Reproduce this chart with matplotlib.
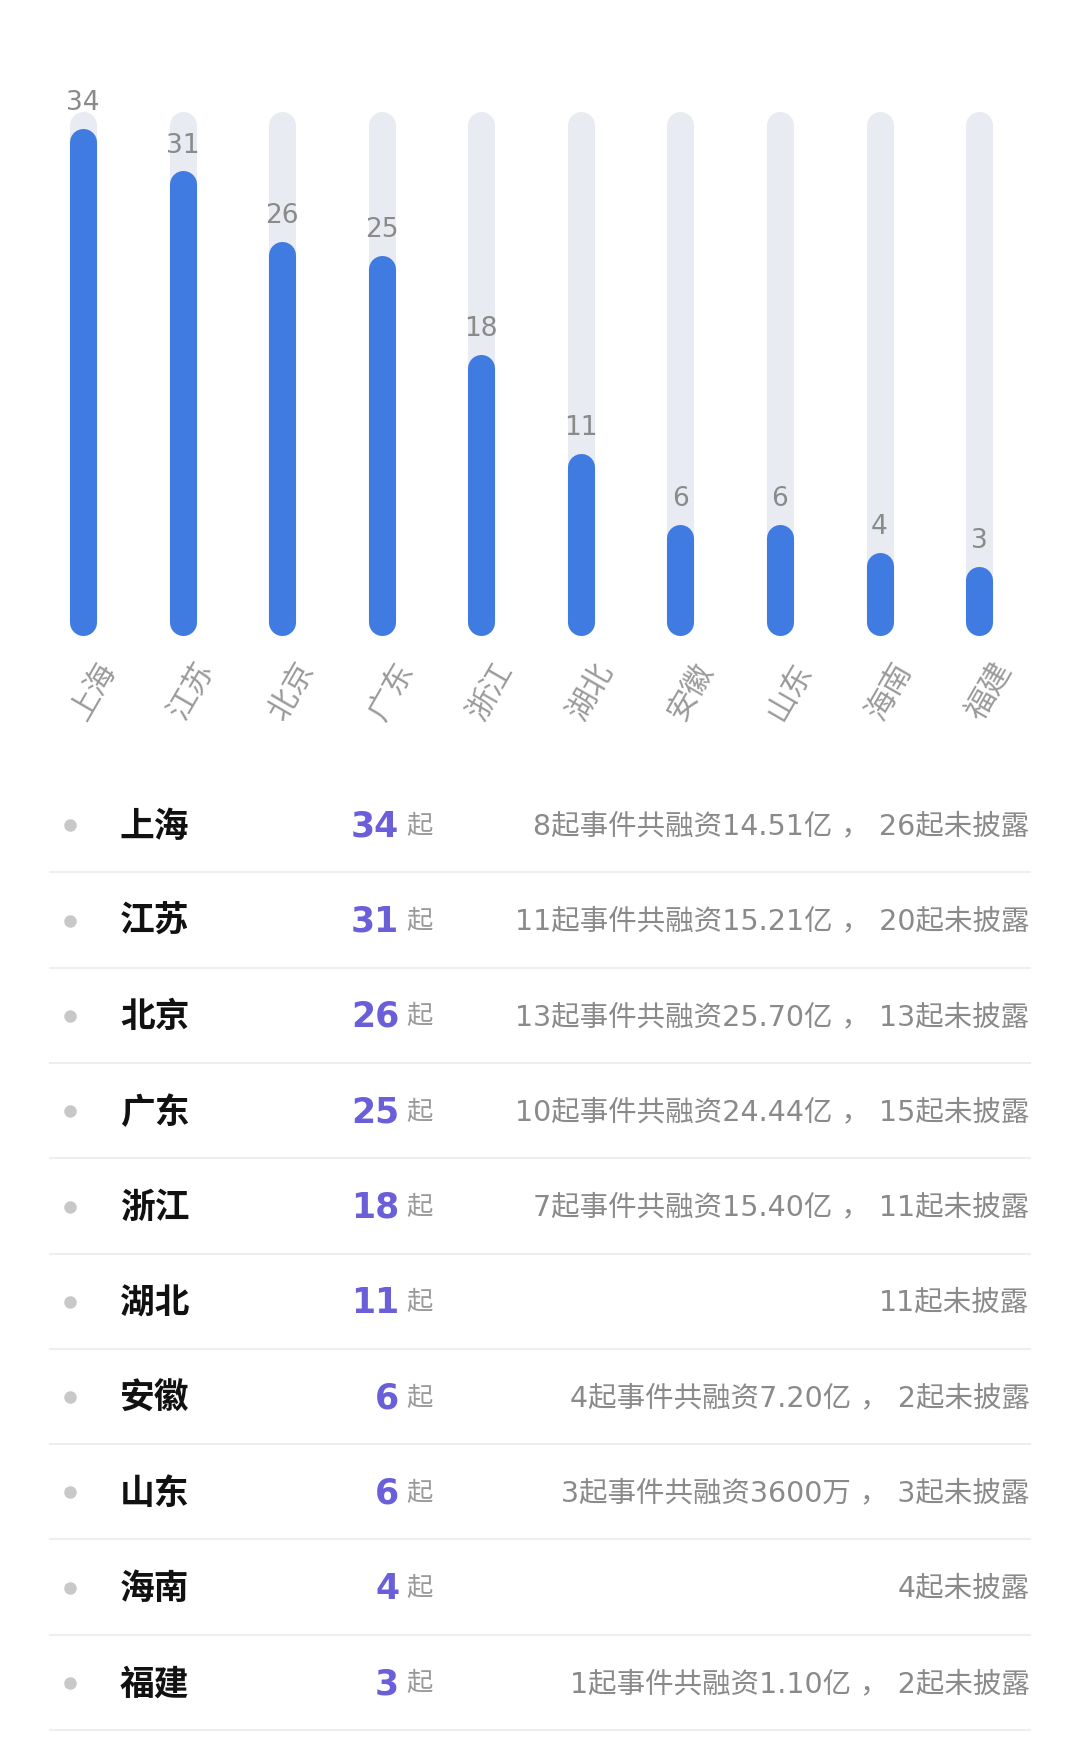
import matplotlib.pyplot as plt

plt.rcParams['font.family'] = ['DejaVu Sans', 'Noto Sans CJK SC']
CJK = ['Noto Sans CJK SC', 'DejaVu Sans']

provinces = ['上海', '江苏', '北京', '广东', '浙江', '湖北', '安徽', '山东', '海南', '福建']
counts = [34, 31, 26, 25, 18, 11, 6, 6, 4, 3]
details = ['8起事件共融资14.51亿，26起未披露', '11起事件共融资15.21亿，20起未披露',
           '13起事件共融资25.70亿，13起未披露', '10起事件共融资24.44亿，15起未披露',
           '7起事件共融资15.40亿，11起未披露', '11起未披露',
           '4起事件共融资7.20亿，2起未披露', '3起事件共融资3600万，3起未披露',
           '4起未披露', '1起事件共融资1.10亿，2起未披露']
track_max = 35.2

W, H = 963, 1568  # layout units (reference scale)
fig = plt.figure(figsize=(10.8, 17.58), dpi=100)

# bar chart
ax = fig.add_axes([29.6 / W, 1 - 556 / H, (917.4 - 29.6) / W, (556 - 102.4) / H])
ax.set_xlim(-0.5, 9.5)
ax.set_ylim(0, 36)
ax.axis('off')
for i, c in enumerate(counts):
    ax.plot([i, i], [0, track_max], color='#e9ebf3', lw=19.5, solid_capstyle='round',
            zorder=1, clip_on=False)
    ax.plot([i, i], [0, c], color='#3f7be0', lw=19.5, solid_capstyle='round',
            zorder=2, clip_on=False)
    ax.text(i, c + 1.9, str(c), ha='center', va='bottom', fontsize=19, color='#8a8a8a')
    ax.text(i + 0.12, -2.4, provinces[i], ha='right', va='top', rotation=60,
            rotation_mode='anchor', fontsize=22, color='#9a9a9a', family=CJK)

# table
tx = fig.add_axes([0, 0, 1, 1])
tx.set_xlim(0, W)
tx.set_ylim(H, 0)
tx.axis('off')
for i, (p, c, d) in enumerate(zip(provinces, counts, details)):
    y = 737 + 85 * i
    tx.plot(62, y, 'o', color='#c8c8c8', ms=8)
    tx.text(107, y, p, ha='left', va='center', fontsize=25, fontweight='bold',
            color='#111111', family=CJK)
    tx.text(356, y, str(c), ha='right', va='center', fontsize=25, fontweight='bold', color='#6a5fd8')
    tx.text(362, y, '起', ha='left', va='center', fontsize=19, color='#9a9a9a', family=CJK)
    tx.text(918, y, d.replace('，', ' ， '), ha='right', va='center', fontsize=20.5, color='#8a8a8a')
    tx.plot([45, 918], [y + 42, y + 42], color='#eeeeee', lw=1.5)

fig.savefig('out.png', dpi=100, facecolor='white')
